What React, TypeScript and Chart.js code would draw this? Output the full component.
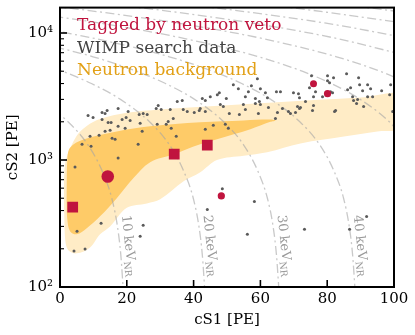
import React, { useEffect, useRef } from 'react';
import { Chart, registerables } from 'chart.js';

Chart.register(...registerables);

// ---------- axis ticks ----------
const xTickValues = [0, 20, 40, 60, 80, 100];
const yMajorLabels: Record<number, string> = { 100: '10²', 1000: '10³', 10000: '10⁴' };

// ---------- WIMP search data (cS1 [PE], cS2 [PE]) ----------
const wimpS1 = [
  8.4, 9.9, 12.6, 13.5, 14.1, 12.6, 17.4, 20.4, 19.8, 18.6, 21.0, 23.7, 24.9, 26.1, 29.4, 28.8, 30.3, 33.0, 33.9, 32.4,
  14.4, 15.3, 17.4, 24.0, 9.0, 11.7, 13.5, 15.0, 15.6, 16.5, 6.6, 9.3, 23.4, 24.6, 31.8, 33.3, 34.8, 17.4, 4.5, 12.3,
  24.9, 24.0, 5.1, 4.2, 7.5, 44.1, 43.5, 45.9, 49.5, 50.4, 48.6, 58.2, 56.1, 73.2, 86.7, 91.8, 59.1, 51.9, 53.4, 57.3,
  60.0, 61.5, 56.4, 55.5, 58.5, 59.7, 62.1, 64.8, 66.0, 69.9, 71.4, 71.7, 75.3, 80.1, 81.9, 80.1, 80.7, 85.8, 89.4, 89.7,
  92.1, 93.0, 90.6, 87.0, 86.1, 99.0, 96.3, 98.7, 74.7, 76.5, 78.6, 75.9, 81.0, 81.6, 87.6, 89.1, 87.9, 88.8, 90.9, 92.1,
  93.6, 75.9, 75.6, 82.5, 99.6, 73.5, 72.0, 47.1, 47.7, 49.8, 45.0, 42.6, 36.9, 38.1, 40.2, 41.7, 43.5, 42.0, 48.0, 48.9,
  54.9, 55.5, 50.7, 53.7, 58.5, 60.0, 62.4, 59.4, 65.1, 66.6, 68.4, 69.0, 64.5, 70.5, 71.7, 35.1, 36.6, 29.1, 19.5, 82.2,
  71.1, 43.5,
];
const wimpS2 = [
  2243, 2163, 2367, 2325, 2454, 2087, 2543, 2410, 2163, 2087, 2050, 2283, 2325, 2283, 2684, 2543, 2498, 2498, 2125, 2014,
  1978, 1978, 1841, 1943, 1538, 1566, 1683, 1713, 1484, 1458, 1333, 1286, 1333, 1683, 1908, 1776, 1538, 1036, 882, 317,
  306, 251, 275, 192, 199, 407, 1745, 1874, 1908, 1776, 594, 471, 260, 285, 285, 359, 4357, 3911, 3641, 3843,
  3641, 3389, 3450, 3154, 3043, 2884, 3098, 3450, 3450, 3389, 3329, 3098, 4598, 4598, 4436, 4203, 4055, 4766, 4436, 3911,
  3911, 3641, 3513, 3707, 3576, 3911, 3513, 3269, 3707, 3450, 3154, 3154, 3450, 3389, 3154, 2989, 2936, 2782, 2636, 3154,
  3154, 2684, 2454, 2454, 2410, 2884, 2590, 3269, 3389, 3043, 3154, 3043, 2498, 2410, 2367, 2454, 2410, 2543, 2733, 2636,
  2733, 2498, 2325, 2283, 2782, 2733, 2590, 2325, 2367, 2543, 2410, 2325, 2125, 2367, 2543, 2884, 2936, 1908, 1776, 2410,
  2636, 2936,
];

// ---------- Tagged by neutron veto ----------
const taggedSquareS1 = [3.8, 34.2, 44.1];
const taggedSquareS2 = [425, 1114, 1309];
const taggedCircleS1 = [14.3, 48.3, 75.9, 80.1];
const taggedCircleS2 = [741, 521, 3990, 3330];
const taggedCircleRadius = [6.3, 3.6, 3.5, 3.6];

// ---------- Neutron background bands ----------
const outerUpper = [[1.2, 450], [1.3, 800], [2, 1050], [5, 1550], [8, 1850], [12, 2100], [20, 2350], [30, 2500], [45, 2650], [60, 2800], [75, 2950], [90, 3100], [103, 3250]];
const outerLower = [[1.3, 350], [1.6, 230], [2.5, 195], [5, 184], [9, 205], [12, 260], [15, 300], [20, 420], [26, 455], [30, 490], [37, 680], [42, 800], [47, 1000], [55, 1080], [62, 1150], [72, 1350], [85, 1530], [95, 1680], [103, 1820]];
const innerUpper = [[2, 600], [2.2, 1000], [3, 1250], [7, 1450], [17, 1680], [27, 1840], [42, 1980], [55, 2050], [63, 2080], [64.5, 2040]];
const innerLower = [[2, 450], [2.2, 340], [3, 275], [5, 260], [8, 290], [12, 360], [17, 500], [22, 720], [27, 960], [34, 1110], [40, 1280], [47, 1460], [57, 1750], [63, 2000]];

// ---------- constant nuclear-recoil energy contours (cS1, cS2) ----------
const nr10 = [[-15.0, 4000], [-6.3, 3000], [2.4, 2000], [8.5, 1300], [12.8, 800], [15.5, 500], [17.2, 300], [18.2, 180], [19.0, 90]];
const nr20 = [[-12.3, 6500], [0.7, 5000], [9.4, 4000], [18.1, 3000], [26.8, 2000], [32.9, 1300], [37.2, 800], [39.9, 500], [41.6, 300], [42.6, 180], [43.4, 90]];
const nr30 = [[-11.9, 9000], [9.9, 6500], [22.9, 5000], [31.6, 4000], [40.3, 3000], [49.0, 2000], [55.1, 1300], [59.4, 800], [62.1, 500], [63.8, 300], [64.8, 180], [65.6, 90]];
const nr40 = [[-15.1, 12000], [10.9, 9000], [32.7, 6500], [45.7, 5000], [54.4, 4000], [63.1, 3000], [71.8, 2000], [77.9, 1300], [82.2, 800], [84.9, 500], [86.6, 300], [87.6, 180], [88.4, 90]];
const nr50 = [[-23.1, 16000], [11.7, 12000], [37.7, 9000], [59.5, 6500], [72.5, 5000], [81.2, 4000], [89.9, 3000], [98.6, 2000], [104.7, 1300]];
const nr60 = [[-34.6, 20000], [0.2, 16000], [35.0, 12000], [61.0, 9000], [82.8, 6500], [95.8, 5000], [104.5, 4000]];
const nr70 = [[-12.3, 20000], [22.5, 16000], [57.3, 12000], [83.3, 9000], [105.1, 6500]];
const nr80 = [[9.6, 20000], [44.4, 16000], [79.2, 12000], [105.2, 9000]];
const nr90 = [[33.1, 20000], [67.9, 16000], [102.7, 12000]];
const nr100 = [[56.1, 20000], [90.9, 16000], [125.7, 12000]];
const energyCurves = [nr10, nr20, nr30, nr40, nr50, nr60, nr70, nr80, nr90, nr100];

const energyLabelText = ['10', '20', '30', '40'];
const energyLabelS1 = [16.6, 41.0, 63.2, 86.0];
const energyLabelS2 = 366;

const legendText = ['Tagged by neutron veto', 'WIMP search data', 'Neutron background'];

// ---------- styles ----------
const FONT = '"DejaVu Serif", serif';
const RED = '#C0143E';
const legendColors = [RED, '#444444', '#E2A016'];
const toXY = (pts: number[][]) => pts.map(([x, y]) => ({ x, y }));

const decor = {
  id: 'decor',
  afterDatasetsDraw(chart: any) {
    const { ctx, chartArea: a, scales } = chart;
    const xs = scales.x;
    const ys = scales.y;
    ctx.save();
    // energy labels
    ctx.save();
    ctx.beginPath();
    ctx.rect(a.left, a.top, a.right - a.left, a.bottom - a.top);
    ctx.clip();
    energyLabelText.forEach((t, i) => {
      const px = xs.getPixelForValue(energyLabelS1[i]) + 6.5;
      const py = ys.getPixelForValue(energyLabelS2);
      ctx.save();
      ctx.translate(px, py);
      ctx.rotate((84 * Math.PI) / 180);
      ctx.fillStyle = '#9a9a9a';
      ctx.textAlign = 'left';
      ctx.textBaseline = 'alphabetic';
      ctx.font = `13px ${FONT}`;
      const main = `${t} keV`;
      ctx.fillText(main, 0, 0);
      const w = ctx.measureText(main).width;
      ctx.font = `9.5px ${FONT}`;
      ctx.fillText('NR', w + 0.5, 3);
      ctx.restore();
    });
    ctx.restore();

    // legend
    ctx.font = `17px ${FONT}`;
    ctx.textAlign = 'left';
    ctx.textBaseline = 'alphabetic';
    legendText.forEach((t, i) => {
      ctx.fillStyle = legendColors[i];
      ctx.fillText(t, a.left + 17, a.top + 22.5 + i * 22.6);
    });

    // inward ticks
    ctx.strokeStyle = '#000';
    ys.ticks.forEach((tk: any) => {
      const v = tk.value;
      const e = Math.floor(Math.log10(v) + 1e-9);
      const m = v / Math.pow(10, e);
      if (Math.abs(m - Math.round(m)) > 1e-6) return;
      const major = Math.round(m) === 1;
      const py = ys.getPixelForValue(v);
      ctx.lineWidth = major ? 1.6 : 1.1;
      ctx.beginPath();
      ctx.moveTo(a.left, py);
      ctx.lineTo(a.left + (major ? 7 : 4), py);
      ctx.stroke();
    });
    xs.ticks.forEach((tk: any) => {
      const px = xs.getPixelForValue(tk.value);
      ctx.lineWidth = 1.6;
      ctx.beginPath();
      ctx.moveTo(px, a.bottom);
      ctx.lineTo(px, a.bottom - 7);
      ctx.stroke();
    });

    // frame
    ctx.lineWidth = 2;
    ctx.strokeRect(a.left, a.top, a.right - a.left, a.bottom - a.top);
    ctx.restore();
  },
};

export default function App() {
  const ref = useRef<HTMLCanvasElement>(null);
  useEffect(() => {
    const outerPoly = toXY(outerUpper.concat(outerLower.slice().reverse(), [outerUpper[0]]));
    const innerPoly = toXY(innerUpper.concat(innerLower.slice().reverse(), [innerUpper[0]]));
    const lineSets = energyCurves.map((c) => ({
      type: 'line' as const,
      data: toXY(c),
      showLine: true,
      borderColor: 'rgba(165,165,165,0.6)',
      borderWidth: 1.3,
      borderDash: [9, 3.5, 2, 3.5],
      pointRadius: 0,
      cubicInterpolationMode: 'monotone' as const,
      fill: false,
    }));
    const chart = new Chart(ref.current as HTMLCanvasElement, {
      type: 'scatter',
      data: {
        datasets: [
          {
            data: taggedCircleS1.map((s, i) => ({ x: s, y: taggedCircleS2[i] })),
            pointStyle: 'circle',
            pointRadius: taggedCircleRadius,
            backgroundColor: RED,
            borderWidth: 0,
          },
          {
            data: taggedSquareS1.map((s, i) => ({ x: s, y: taggedSquareS2[i] })),
            pointStyle: 'rect',
            pointRadius: 7.6,
            backgroundColor: RED,
            borderWidth: 0,
          },
          {
            data: wimpS1.map((s, i) => ({ x: s, y: wimpS2[i] })),
            pointRadius: 1.5,
            backgroundColor: '#5a5a5a',
            borderWidth: 0,
          },
          ...lineSets,
          {
            type: 'line',
            data: innerPoly,
            showLine: true,
            borderWidth: 0,
            pointRadius: 0,
            tension: 0.35,
            backgroundColor: '#FECB68',
            fill: 'shape',
          },
          {
            type: 'line',
            data: outerPoly,
            showLine: true,
            borderWidth: 0,
            pointRadius: 0,
            tension: 0.35,
            backgroundColor: '#FFECC6',
            fill: 'shape',
          },
        ] as any,
      },
      options: {
        animation: false,
        responsive: false,
        devicePixelRatio: 1,
        events: [],
        layout: { padding: { left: 0, right: 21, top: 5, bottom: 0 } },
        plugins: { legend: { display: false }, tooltip: { enabled: false } },
        scales: {
          x: {
            type: 'linear',
            min: 0,
            max: 100,
            afterBuildTicks: (scale: any) => {
              scale.ticks = xTickValues.map((v) => ({ value: v }));
            },
            afterFit: (scale: any) => {
              scale.height = 48;
              scale.paddingLeft = 0;
              scale.paddingRight = 0;
            },
            grid: { display: false, drawTicks: false },
            border: { display: false },
            ticks: {
              autoSkip: false,
              maxRotation: 0,
              padding: 3,
              color: '#000',
              font: { family: FONT, size: 15 },
            },
            title: {
              display: true,
              text: 'cS1 [PE]',
              color: '#000',
              font: { family: FONT, size: 15 },
              padding: { top: 0, bottom: 6 },
            },
          },
          y: {
            type: 'logarithmic',
            min: 100,
            max: 15849,
            afterFit: (scale: any) => {
              scale.width = 60;
              scale.paddingTop = 0;
              scale.paddingBottom = 0;
            },
            grid: { display: false, drawTicks: false },
            border: { display: false },
            ticks: {
              autoSkip: false,
              padding: 7,
              color: '#000',
              font: { family: FONT, size: 15 },
              callback: (v: any) => yMajorLabels[Math.round(Number(v))] ?? '',
            },
            title: {
              display: true,
              text: 'cS2 [PE]',
              color: '#000',
              font: { family: FONT, size: 15 },
              padding: { top: 4, bottom: 0 },
            },
          },
        },
      },
      plugins: [decor],
    });
    return () => chart.destroy();
  }, []);
  return (
    <div style={{ position: 'fixed', left: 0, top: 0, width: 415, height: 335, background: '#fff' }}>
      <canvas ref={ref} width={415} height={335} style={{ display: 'block', width: 415, height: 335 }} />
    </div>
  );
}
